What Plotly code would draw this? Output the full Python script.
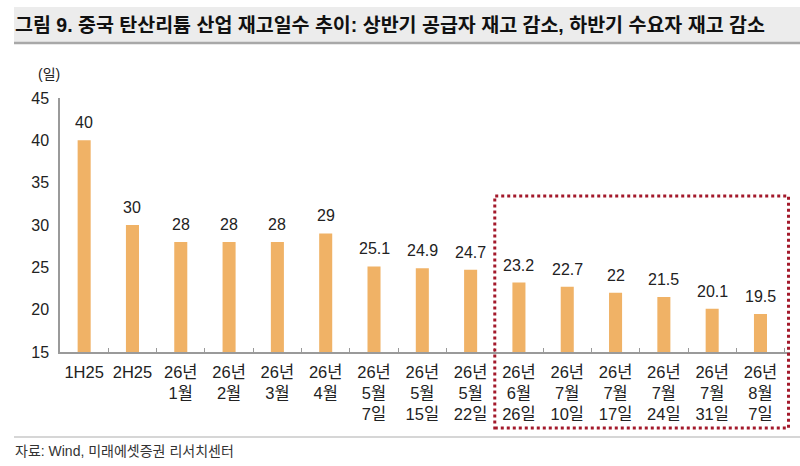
import plotly.graph_objects as go

# 재고일수 데이터
categories = ["1H25", "2H25", "26년<br>1월", "26년<br>2월", "26년<br>3월", "26년<br>4월",
              "26년<br>5월<br>7일", "26년<br>5월<br>15일", "26년<br>5월<br>22일",
              "26년<br>6월<br>26일", "26년<br>7월<br>10일", "26년<br>7월<br>17일",
              "26년<br>7월<br>24일", "26년<br>7월<br>31일", "26년<br>8월<br>7일"]
values = [40, 30, 28, 28, 28, 29, 25.1, 24.9, 24.7, 23.2, 22.7, 22, 21.5, 20.1, 19.5]
value_labels = ["40", "30", "28", "28", "28", "29", "25.1", "24.9", "24.7",
                "23.2", "22.7", "22", "21.5", "20.1", "19.5"]

FONT = "Liberation Sans, Arial, Noto Sans CJK KR"
BAR_COLOR = "#F0B266"
H, T, B = 466, 98, 114
PH = H - T - B


def py(pix):
    # 픽셀 y 위치 -> paper 좌표
    return (H - B - pix) / PH


def px_(pix):
    # 픽셀 x 위치 -> paper 좌표
    return (pix - 60) / 730


fig = go.Figure()
fig.add_trace(go.Bar(
    x=categories, y=values,
    marker=dict(color=BAR_COLOR, line=dict(width=0)),
    hoverinfo="x+y",
))

# 막대 위 값 표시
for c, v, t in zip(categories, values, value_labels):
    fig.add_annotation(x=c, y=v, text=t, showarrow=False, yanchor="bottom",
                       yshift=7, font=dict(size=16, color="#222222", family=FONT))

fig.update_layout(
    width=800, height=H,
    margin=dict(l=60, r=10, t=T, b=B),
    paper_bgcolor="white", plot_bgcolor="white",
    font=dict(family=FONT, size=15, color="#222222"),
    bargap=0.73,
    showlegend=False,
    xaxis=dict(
        type="category",
        showline=True, linecolor="#9a9a9a", linewidth=1.5,
        ticks="inside", tickson="boundaries", ticklen=4, tickcolor="#9a9a9a",
        tickfont=dict(size=16.5, color="#222222"),
        tickangle=0,
        ticklabelstandoff=4,
        showgrid=False,
    ),
    yaxis=dict(
        range=[15, 45], dtick=5,
        showline=True, linecolor="#9a9a9a", linewidth=1.5,
        ticks="", showgrid=False, zeroline=False,
        tickfont=dict(size=16, color="#222222"),
        ticklabelstandoff=6,
    ),
)

# 제목 배경 띠
fig.add_shape(type="rect", xref="paper", yref="paper", x0=px_(14), x1=px_(800),
              y0=py(42), y1=py(7),
              fillcolor="#ececec", line=dict(width=0), layer="below")
fig.add_shape(type="line", xref="paper", yref="paper", x0=px_(14), x1=px_(800),
              y0=py(43), y1=py(43),
              line=dict(color="#a8a8a8", width=2.5))

fig.add_annotation(text="<b>그림 9. 중국 탄산리튬 산업 재고일수 추이: 상반기 공급자 재고 감소, 하반기 수요자 재고 감소</b>",
                   xref="paper", yref="paper", x=px_(13), y=py(25),
                   xanchor="left", yanchor="middle", showarrow=False,
                   font=dict(size=19.5, color="#111111", family=FONT))

fig.add_annotation(text="(일)", xref="paper", yref="paper", x=px_(49), y=py(74),
                   xanchor="center", yanchor="middle", showarrow=False,
                   font=dict(size=14, color="#222222", family=FONT))

# 하단 출처
fig.add_shape(type="line", xref="paper", yref="paper", x0=px_(14), x1=px_(800),
              y0=py(437), y1=py(437),
              line=dict(color="#c8c8c8", width=1.5))
fig.add_annotation(text="자료: Wind, 미래에셋증권 리서치센터",
                   xref="paper", yref="paper", x=px_(13), y=py(451),
                   xanchor="left", yanchor="middle", showarrow=False,
                   font=dict(size=14, color="#333333", family=FONT))

# 하반기 강조 박스 (점선)
fig.add_shape(type="rect", xref="x", yref="paper", x0=8.5, x1=14.58,
              y0=py(428), y1=py(196),
              line=dict(color="#A3192B", width=3, dash="dot"), fillcolor="rgba(0,0,0,0)")

fig.write_html("out.html", config={"displayModeBar": False},
               post_script="document.body.style.margin='0';")
